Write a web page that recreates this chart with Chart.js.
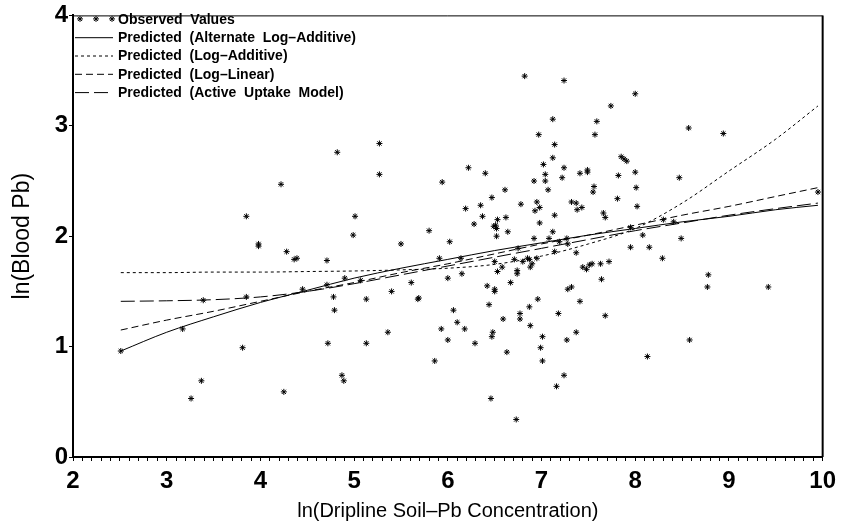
<!DOCTYPE html>
<html>
<head>
<meta charset="utf-8">
<script src="https://cdn.jsdelivr.net/npm/chart.js@4.4.0/dist/chart.umd.min.js"></script>
<style>
  html, body { margin: 0; padding: 0; background: #fff; }
  #wrap { width: 842px; height: 524px; }
</style>
</head>
<body>
<div id="wrap"><canvas id="chart"></canvas></div>
<script>
// observed points (x = ln soil Pb, y = ln blood Pb)
const obsX = [2.51, 3.17, 3.39, 3.85, 4.45, 3.81, 3.37, 3.26, 4.25, 4.22, 3.85, 3.98, 3.98, 4.28, 4.36, 4.39,
  6.82, 4.82, 5.27, 5.27, 5.01, 4.99, 5.50, 4.71, 5.80, 6.02, 5.94, 6.22, 6.40, 6.61, 6.47, 6.35, 6.37, 6.28,
  6.53, 6.62, 6.51, 6.49, 6.52, 6.52, 6.64, 6.78, 6.95, 6.98, 6.93, 6.97, 7.12, 7.14, 7.12, 7.02, 7.04, 6.92,
  7.04, 7.07, 7.14, 6.98, 7.12, 6.92, 7.08, 7.14, 5.91, 6.14, 6.50, 6.71, 6.80, 6.85, 6.87, 6.95, 6.90, 6.88,
  6.58, 6.53, 6.74, 6.74, 6.00, 6.15, 4.90, 4.71, 5.07, 4.78, 4.79, 5.13, 5.40, 5.61, 5.69, 5.68, 4.72, 5.13,
  5.36, 4.87, 4.89, 5.86, 5.93, 6.00, 6.06, 6.10, 6.18, 6.29, 6.42, 6.44, 6.50, 6.50, 6.67, 6.48, 6.47, 6.46,
  6.63, 6.73, 6.77, 6.77, 6.59, 6.87, 6.88, 6.96, 7.01, 6.99, 7.01, 7.16, 7.18, 7.28, 7.32, 7.41, 7.44, 7.48,
  7.51, 7.54, 7.63, 7.72, 7.64, 7.68, 7.37, 7.27, 7.24, 8.78, 8.77, 9.42, 8.58, 8.13, 7.24, 8.00, 7.74, 7.59,
  8.57, 8.94, 7.57, 7.85, 7.88, 7.91, 7.24, 7.22, 7.41, 7.49, 7.49, 7.82, 8.00, 8.47, 7.56, 7.55, 8.01, 7.32,
  7.37, 7.43, 7.38, 7.81, 8.02, 7.66, 7.68, 8.30, 8.41, 7.95, 8.08, 8.49, 7.27, 7.19, 7.28, 7.95, 8.15, 7.37,
  8.29, 6.75, 9.95, 6.19];
const obsY = [0.96, 1.16, 1.42, 1.45, 1.52, 0.99, 0.69, 0.53, 0.59, 2.47, 2.18, 1.93, 1.91, 1.86, 1.79, 1.80,
  3.45, 2.76, 2.84, 2.56, 2.18, 2.01, 1.93, 1.78, 2.05, 1.95, 2.49, 2.62, 2.57, 2.42, 2.35, 2.28, 2.18, 2.11,
  2.15, 2.17, 2.10, 2.09, 2.07, 2.00, 2.04, 2.29, 2.31, 2.26, 2.23, 2.92, 3.06, 2.83, 2.71, 2.65, 2.56, 2.50,
  2.50, 2.42, 2.19, 2.12, 2.04, 1.98, 1.98, 1.86, 1.80, 1.80, 1.77, 1.79, 1.77, 1.80, 1.79, 1.80, 1.75, 1.72,
  1.72, 1.68, 1.69, 1.66, 1.62, 1.66, 1.62, 1.56, 1.60, 1.45, 1.33, 1.43, 1.50, 1.58, 1.44, 1.43, 1.03, 1.03,
  1.13, 0.74, 0.69, 0.87, 1.16, 1.06, 1.33, 1.22, 1.16, 1.03, 1.55, 1.38, 1.52, 1.50, 1.58, 1.13, 1.09, 0.53,
  0.95, 0.34, 1.30, 1.25, 1.25, 1.36, 1.19, 1.43, 1.09, 0.99, 0.87, 0.64, 1.30, 1.52, 1.54, 1.41, 1.72, 1.70,
  1.74, 1.75, 1.75, 1.77, 1.61, 1.28, 1.13, 1.06, 0.74, 1.65, 1.54, 1.54, 1.06, 0.91, 3.41, 3.29, 3.18, 3.04,
  2.98, 2.93, 2.92, 2.72, 2.70, 2.68, 2.62, 2.53, 2.57, 2.60, 2.58, 2.55, 2.58, 2.53, 2.45, 2.40, 2.44, 2.31,
  2.30, 2.26, 2.24, 2.34, 2.27, 2.21, 2.17, 2.15, 2.13, 2.08, 2.01, 1.98, 1.98, 1.95, 1.93, 1.90, 1.90, 1.85,
  1.80, 1.89, 2.40, 2.25];

// fitted curves
const curveX = [2.51, 3, 3.5, 4, 4.5, 5, 5.5, 6, 6.5, 7, 7.5, 8, 8.5, 9, 9.5, 9.95];
const altLogAdditive = [0.96, 1.13, 1.27, 1.40, 1.51, 1.62, 1.71, 1.79, 1.87, 1.94, 2.01, 2.07, 2.13, 2.18, 2.24, 2.28];
const logAdditive = [1.67, 1.67, 1.675, 1.675, 1.68, 1.685, 1.695, 1.71, 1.745, 1.82, 1.93, 2.07, 2.30, 2.59, 2.88, 3.18];
const logLinear = [1.15, 1.24, 1.32, 1.41, 1.50, 1.58, 1.67, 1.75, 1.84, 1.93, 2.01, 2.10, 2.19, 2.27, 2.36, 2.44];
const activeUptake = [1.41, 1.415, 1.425, 1.45, 1.50, 1.57, 1.65, 1.73, 1.81, 1.89, 1.97, 2.05, 2.12, 2.19, 2.25, 2.30];

const seriesNames = [
  'Observed  Values',
  'Predicted  (Alternate  Log–Additive)',
  'Predicted  (Log–Additive)',
  'Predicted  (Log–Linear)',
  'Predicted  (Active  Uptake  Model)'
];

const FONT = '"Liberation Sans", Arial, sans-serif';

function pts(xs, ys) {
  return xs.map((x, i) => ({ x: x, y: ys[i] }));
}

function curve(label, ys, dash) {
  return {
    label: label,
    data: pts(curveX, ys),
    showLine: true,
    borderColor: '#000',
    borderWidth: 1,
    borderDash: dash,
    pointRadius: 0,
    cubicInterpolationMode: 'monotone',
    fill: false
  };
}

// box around the plot (top + right sides)
const framePlugin = {
  id: 'frame',
  afterDraw(chart) {
    const { ctx, chartArea: a } = chart;
    ctx.save();
    ctx.strokeStyle = '#000';
    ctx.lineWidth = 1;
    ctx.beginPath();
    ctx.moveTo(a.left, a.top + 0.5);
    ctx.lineTo(a.right, a.top + 0.5);
    ctx.stroke();
    ctx.lineWidth = 2;
    ctx.beginPath();
    ctx.moveTo(a.right, a.top);
    ctx.lineTo(a.right, a.bottom);
    ctx.stroke();
    ctx.restore();
  }
};

// legend in the upper left corner of the plot
const legendPlugin = {
  id: 'cornerLegend',
  afterDraw(chart) {
    const { ctx, chartArea: a } = chart;
    const x0 = a.left + 2, x1 = a.left + 40, tx = a.left + 45;
    ctx.save();
    ctx.font = 'bold 14px ' + FONT;
    ctx.textBaseline = 'middle';
    ctx.fillStyle = '#000';
    chart.data.datasets.forEach((ds, i) => {
      const y = a.top + 3.5 + i * 18.3;
      if (i === 0) {
        [x0 + 5, x0 + 21, x0 + 37].forEach(px => {
          Chart.helpers.drawPoint(ctx, { pointStyle: 'star', radius: 3, rotation: 0, borderWidth: 1 }, px, y);
        });
      } else {
        ctx.strokeStyle = '#000';
        ctx.lineWidth = 1;
        ctx.setLineDash(ds.borderDash || []);
        ctx.beginPath();
        ctx.moveTo(x0, y + 0.5);
        ctx.lineTo(x1, y + 0.5);
        ctx.stroke();
        ctx.setLineDash([]);
      }
      ctx.fillText(ds.label, tx, y + 1);
    });
    ctx.restore();
  }
};

new Chart(document.getElementById('chart'), {
  type: 'scatter',
  data: {
    datasets: [
      {
        label: seriesNames[0],
        data: pts(obsX, obsY),
        pointStyle: 'star',
        pointRadius: 3,
        borderColor: '#000',
        backgroundColor: '#000',
        borderWidth: 1
      },
      curve(seriesNames[1], altLogAdditive, []),
      curve(seriesNames[2], logAdditive, [3, 3]),
      curve(seriesNames[3], logLinear, [7, 4]),
      curve(seriesNames[4], activeUptake, [14, 5])
    ]
  },
  options: {
    responsive: true,
    maintainAspectRatio: false,
    animation: false,
    devicePixelRatio: 1,
    layout: { padding: { top: 13, right: 16, left: 0, bottom: 0 } },
    plugins: {
      legend: { display: false },
      tooltip: { enabled: false }
    },
    scales: {
      x: {
        type: 'linear',
        min: 2,
        max: 10,
        afterFit: s => { s.height = 67; },
        border: { display: true, color: '#000', width: 2 },
        grid: { drawOnChartArea: false, color: '#000', tickLength: 4 },
        ticks: {
          stepSize: 0.1,
          autoSkip: false,
          maxRotation: 0,
          maxTicksLimit: 200,
          padding: 6,
          color: '#000',
          font: { family: FONT, size: 24, weight: 'bold' },
          callback: v => Math.abs(v - Math.round(v)) < 1e-6 ? String(Math.round(v)) : ''
        },
        title: {
          display: true,
          text: 'ln(Dripline Soil–Pb Concentration)',
          color: '#000',
          font: { family: FONT, size: 20 },
          padding: { top: 0, bottom: 1 }
        }
      },
      y: {
        min: 0,
        max: 4,
        afterFit: s => { s.width = 73; },
        border: { display: true, color: '#000', width: 2 },
        grid: { drawOnChartArea: false, color: '#000', tickLength: 4 },
        ticks: {
          stepSize: 1,
          padding: 1,
          color: '#000',
          font: { family: FONT, size: 24, weight: 'bold' }
        },
        title: {
          display: true,
          text: 'ln(Blood Pb)',
          color: '#000',
          font: { family: FONT, size: 23 },
          padding: { top: 9, bottom: 0 }
        }
      }
    }
  },
  plugins: [framePlugin, legendPlugin]
});
</script>
</body>
</html>
